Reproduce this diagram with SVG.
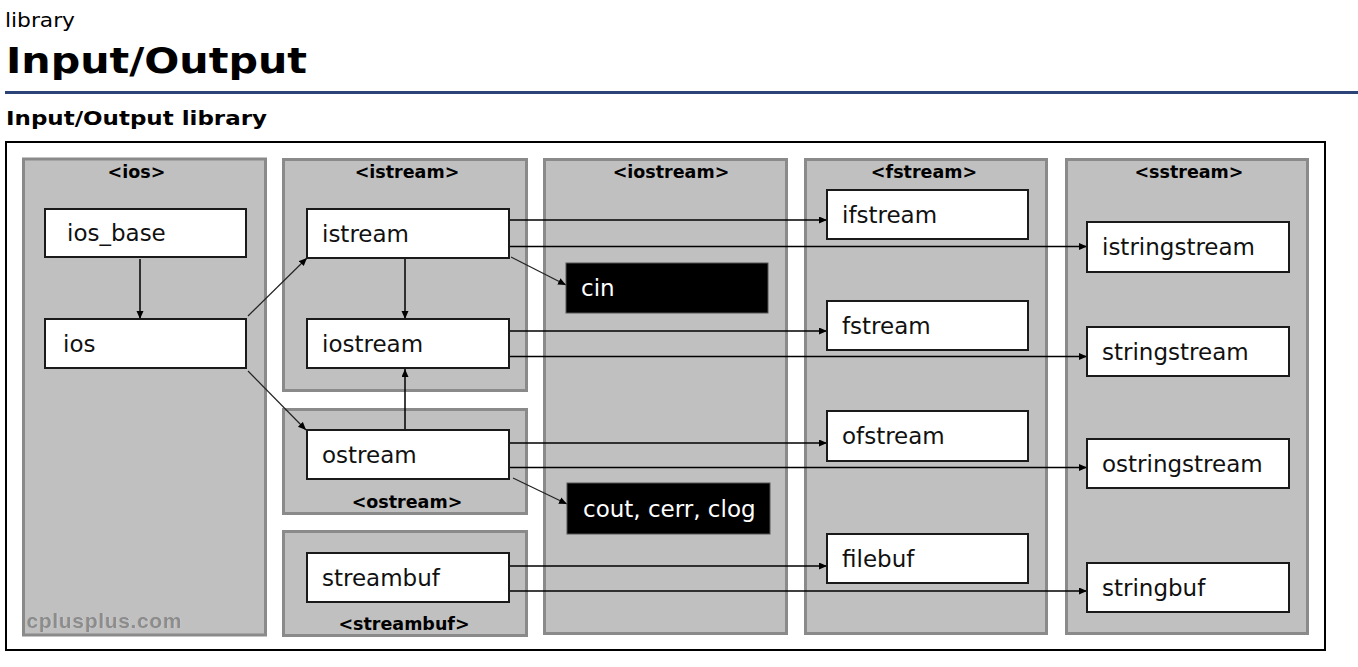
<svg xmlns="http://www.w3.org/2000/svg" width="1358" height="667" viewBox="0 0 1358 667">
<style>
  .col { fill: #c0c0c0; stroke: #8a8a8a; stroke-width: 3; }
  .box { fill: #ffffff; stroke: #1a1a1a; stroke-width: 2; }
  .obj { fill: #000000; stroke: #555555; stroke-width: 1; }
  .lbl { font-family: "DejaVu Sans", Verdana, sans-serif; font-size: 23px; fill: #111111; }
  .wlbl { font-family: "DejaVu Sans", Verdana, sans-serif; font-size: 23px; fill: #ffffff; }
  .hdr { font-family: "DejaVu Sans", Verdana, sans-serif; font-size: 17.5px; font-weight: bold; fill: #000000; text-anchor: middle; }
  .edge { stroke: #000000; stroke-width: 1.5; fill: none; marker-end: url(#ah); }
  .diag { stroke: #222222; stroke-width: 1.2; fill: none; marker-end: url(#ah); }
</style>
<defs>
  <marker id="ah" markerWidth="9" markerHeight="8" refX="8" refY="3.5" orient="auto" markerUnits="userSpaceOnUse">
    <path d="M0,0 L8,3.5 L0,7 z" fill="#000000"/>
  </marker>
</defs>
<rect width="1358" height="667" fill="#ffffff"/>
<g id="page-title">
  <text x="5" y="27" font-family="DejaVu Sans, Verdana, sans-serif" font-size="20" textLength="70" lengthAdjust="spacingAndGlyphs" fill="#000">library</text>
  <text x="6" y="73" font-family="DejaVu Sans, Verdana, sans-serif" font-size="36" font-weight="bold" textLength="301" lengthAdjust="spacingAndGlyphs" fill="#000">Input/Output</text>
  <rect x="5" y="91" width="1353" height="3" fill="#2c4377"/>
  <text x="6" y="125" font-family="DejaVu Sans, Verdana, sans-serif" font-size="20" font-weight="bold" textLength="261" lengthAdjust="spacingAndGlyphs" fill="#000">Input/Output library</text>
</g>
<rect x="6" y="142" width="1319" height="508" fill="#ffffff" stroke="#000000" stroke-width="2"/>
<g id="col-ios">
  <rect class="col" x="23.5" y="159" width="242" height="476"/>
  <text class="hdr" x="136.5" y="178">&lt;ios&gt;</text>
  <text x="27" y="628" font-family="Liberation Sans, Arial, sans-serif" font-size="21" font-weight="bold" textLength="155" fill="#e0e0e0">cplusplus.com</text>
  <text x="26.5" y="627.5" font-family="Liberation Sans, Arial, sans-serif" font-size="21" font-weight="bold" textLength="155" fill="#8c8c8c">cplusplus.com</text>
</g>
<g id="col-istream">
  <rect class="col" x="283.5" y="159.5" width="243" height="231"/>
  <text class="hdr" x="407" y="178">&lt;istream&gt;</text>
</g>
<g id="col-ostream">
  <rect class="col" x="283.5" y="409.5" width="243" height="104"/>
  <text class="hdr" x="407" y="508">&lt;ostream&gt;</text>
</g>
<g id="col-streambuf">
  <rect class="col" x="283.5" y="531.5" width="243" height="104"/>
  <text class="hdr" x="404" y="630">&lt;streambuf&gt;</text>
</g>
<g id="col-iostream">
  <rect class="col" x="544.5" y="159.5" width="242" height="474"/>
  <text class="hdr" x="671" y="178">&lt;iostream&gt;</text>
</g>
<g id="col-fstream">
  <rect class="col" x="805.5" y="159.5" width="241" height="474"/>
  <text class="hdr" x="924" y="178">&lt;fstream&gt;</text>
</g>
<g id="col-sstream">
  <rect class="col" x="1066.5" y="159.5" width="241" height="474"/>
  <text class="hdr" x="1189" y="178">&lt;sstream&gt;</text>
</g>
<g id="connectors">
  <line class="edge" x1="140" y1="259" x2="140" y2="319"/>
  <line class="diag" x1="248" y1="316" x2="307" y2="258"/>
  <line class="diag" x1="248" y1="371" x2="306" y2="430"/>
  <line class="edge" x1="405" y1="259" x2="405" y2="319"/>
  <line class="edge" x1="405" y1="429" x2="405" y2="369"/>
  <line class="edge" x1="510" y1="220" x2="827" y2="220"/>
  <line class="edge" x1="510" y1="246.5" x2="1087" y2="246.5"/>
  <line class="diag" x1="511" y1="257" x2="566" y2="285"/>
  <line class="edge" x1="510" y1="331" x2="827" y2="331"/>
  <line class="edge" x1="510" y1="356.5" x2="1087" y2="356.5"/>
  <line class="edge" x1="510" y1="443" x2="827" y2="443"/>
  <line class="edge" x1="510" y1="467.5" x2="1087" y2="467.5"/>
  <line class="diag" x1="513" y1="478" x2="567" y2="504"/>
  <line class="edge" x1="510" y1="566" x2="827" y2="566"/>
  <line class="edge" x1="510" y1="591" x2="1087" y2="591"/>
</g>
<g id="ios_base"><rect class="box" x="45" y="209" width="201" height="48"/><text class="lbl" x="67" y="241">ios_base</text></g>
<g id="ios"><rect class="box" x="45" y="319" width="201" height="49"/><text class="lbl" x="63" y="352">ios</text></g>
<g id="istream"><rect class="box" x="307" y="209" width="202" height="49"/><text class="lbl" x="322" y="242">istream</text></g>
<g id="iostream"><rect class="box" x="307" y="319" width="202" height="49"/><text class="lbl" x="322" y="352">iostream</text></g>
<g id="ostream"><rect class="box" x="307" y="430" width="202" height="49"/><text class="lbl" x="322" y="463">ostream</text></g>
<g id="streambuf"><rect class="box" x="307" y="553" width="202" height="49"/><text class="lbl" x="322" y="586">streambuf</text></g>
<g id="cin"><rect class="obj" x="566" y="263" width="202" height="50"/><text class="wlbl" x="581" y="296">cin</text></g>
<g id="cout"><rect class="obj" x="567" y="483" width="203" height="51"/><text class="wlbl" x="583" y="517">cout, cerr, clog</text></g>
<g id="ifstream"><rect class="box" x="827" y="190" width="201" height="49"/><text class="lbl" x="842" y="223">ifstream</text></g>
<g id="fstream"><rect class="box" x="827" y="301" width="201" height="49"/><text class="lbl" x="842" y="334">fstream</text></g>
<g id="ofstream"><rect class="box" x="827" y="411" width="201" height="50"/><text class="lbl" x="842" y="444">ofstream</text></g>
<g id="filebuf"><rect class="box" x="827" y="534" width="201" height="49"/><text class="lbl" x="842" y="567">filebuf</text></g>
<g id="istringstream"><rect class="box" x="1087" y="222" width="202" height="50"/><text class="lbl" x="1102" y="255">istringstream</text></g>
<g id="stringstream"><rect class="box" x="1087" y="327" width="202" height="49"/><text class="lbl" x="1102" y="360">stringstream</text></g>
<g id="ostringstream"><rect class="box" x="1087" y="439" width="202" height="49"/><text class="lbl" x="1102" y="472">ostringstream</text></g>
<g id="stringbuf"><rect class="box" x="1087" y="563" width="202" height="49"/><text class="lbl" x="1102" y="596">stringbuf</text></g>
</svg>
